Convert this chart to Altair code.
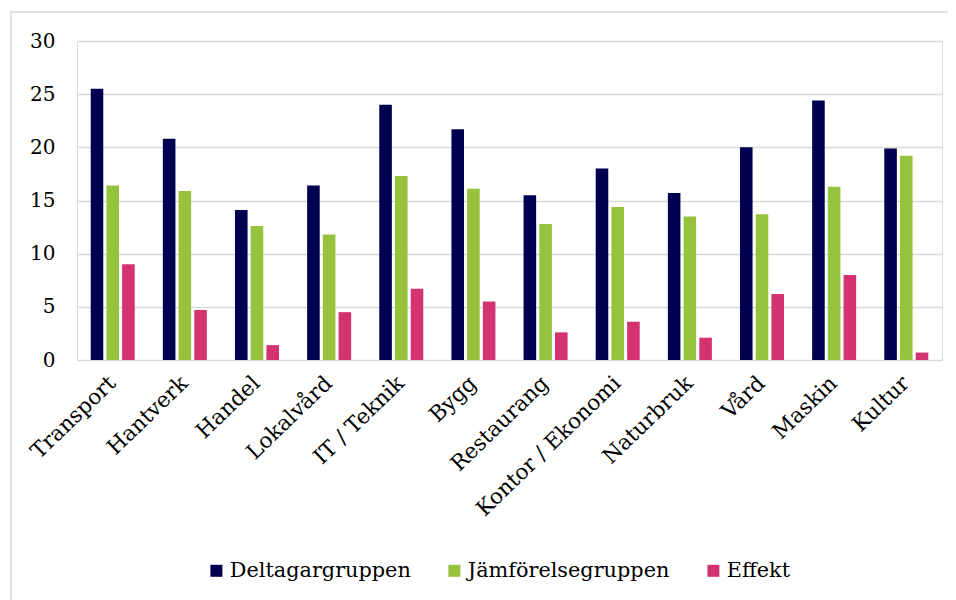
import altair as alt
import pandas as pd

categories = ["Transport", "Hantverk", "Handel", "Lokalvård", "IT / Teknik", "Bygg",
              "Restaurang", "Kontor / Ekonomi", "Naturbruk", "Vård", "Maskin", "Kultur"]
series = ["Deltagargruppen", "Jämförelsegruppen", "Effekt"]
deltagar = [25.5, 20.8, 14.1, 16.4, 24.0, 21.7, 15.5, 18.0, 15.7, 20.0, 24.4, 19.9]
jamfor = [16.4, 15.9, 12.6, 11.8, 17.3, 16.1, 12.8, 14.4, 13.5, 13.7, 16.3, 19.2]
effekt = [9.0, 4.7, 1.4, 4.5, 6.7, 5.5, 2.6, 3.6, 2.1, 6.2, 8.0, 0.7]
colors = ["#000050", "#96c23e", "#d43371"]

rows = []
for i, c in enumerate(categories):
    for s, vals in zip(series, [deltagar, jamfor, effekt]):
        rows.append({"Kategori": c, "Serie": s, "Värde": vals[i]})
df = pd.DataFrame(rows)

FONT = "DejaVu Serif"

bars = alt.Chart(df).mark_bar().encode(
    x=alt.X("Kategori:N", sort=categories, title=None,
            scale=alt.Scale(paddingInner=0.39, paddingOuter=0.19),
            axis=alt.Axis(labelAngle=-44, labelAlign="right", labelBaseline="middle",
                          labelPadding=20, labelFont=FONT, labelFontSize=21.5,
                          labelColor="#000000", domain=False, ticks=False, grid=False,
                          labelLimit=300)),
    xOffset=alt.XOffset("Serie:N", sort=series,
                        scale=alt.Scale(paddingInner=0.2, paddingOuter=0)),
    y=alt.Y("Värde:Q", title=None,
            scale=alt.Scale(domain=[0, 30], nice=False),
            axis=alt.Axis(values=[0, 5, 10, 15, 20, 25, 30], labelFont=FONT, labelFontSize=20,
                          labelColor="#000000", labelPadding=22, ticks=False, domain=False,
                          grid=True, gridColor="#d9d9d9", gridWidth=1.5)),
    color=alt.Color("Serie:N", sort=series,
                    scale=alt.Scale(domain=series, range=colors),
                    legend=alt.Legend(title=None, orient="none", direction="horizontal",
                                      legendX=129, legendY=519, symbolType="square",
                                      symbolSize=144, symbolStrokeWidth=0,
                                      labelFont=FONT, labelFontSize=20.8, labelColor="#000000",
                                      labelOffset=3, columnPadding=33, labelLimit=400)),
)

frame_df = pd.DataFrame({"f": [1]})
frame = alt.Chart(frame_df).mark_rect(fill=None, stroke="#d9d9d9", strokeWidth=1.5).encode(
    x=alt.value(-66), x2=alt.value(900), y=alt.value(-29), y2=alt.value(600)
)

chart = alt.layer(frame, bars).properties(
    width=865, height=319,
    autosize=alt.AutoSizeParams(type="none"),
    padding={"left": 69, "top": 33, "right": 6, "bottom": 240},
).configure_view(stroke=None).configure(background="white")

chart.save("out.html", embed_options={"renderer": "svg", "actions": False})
